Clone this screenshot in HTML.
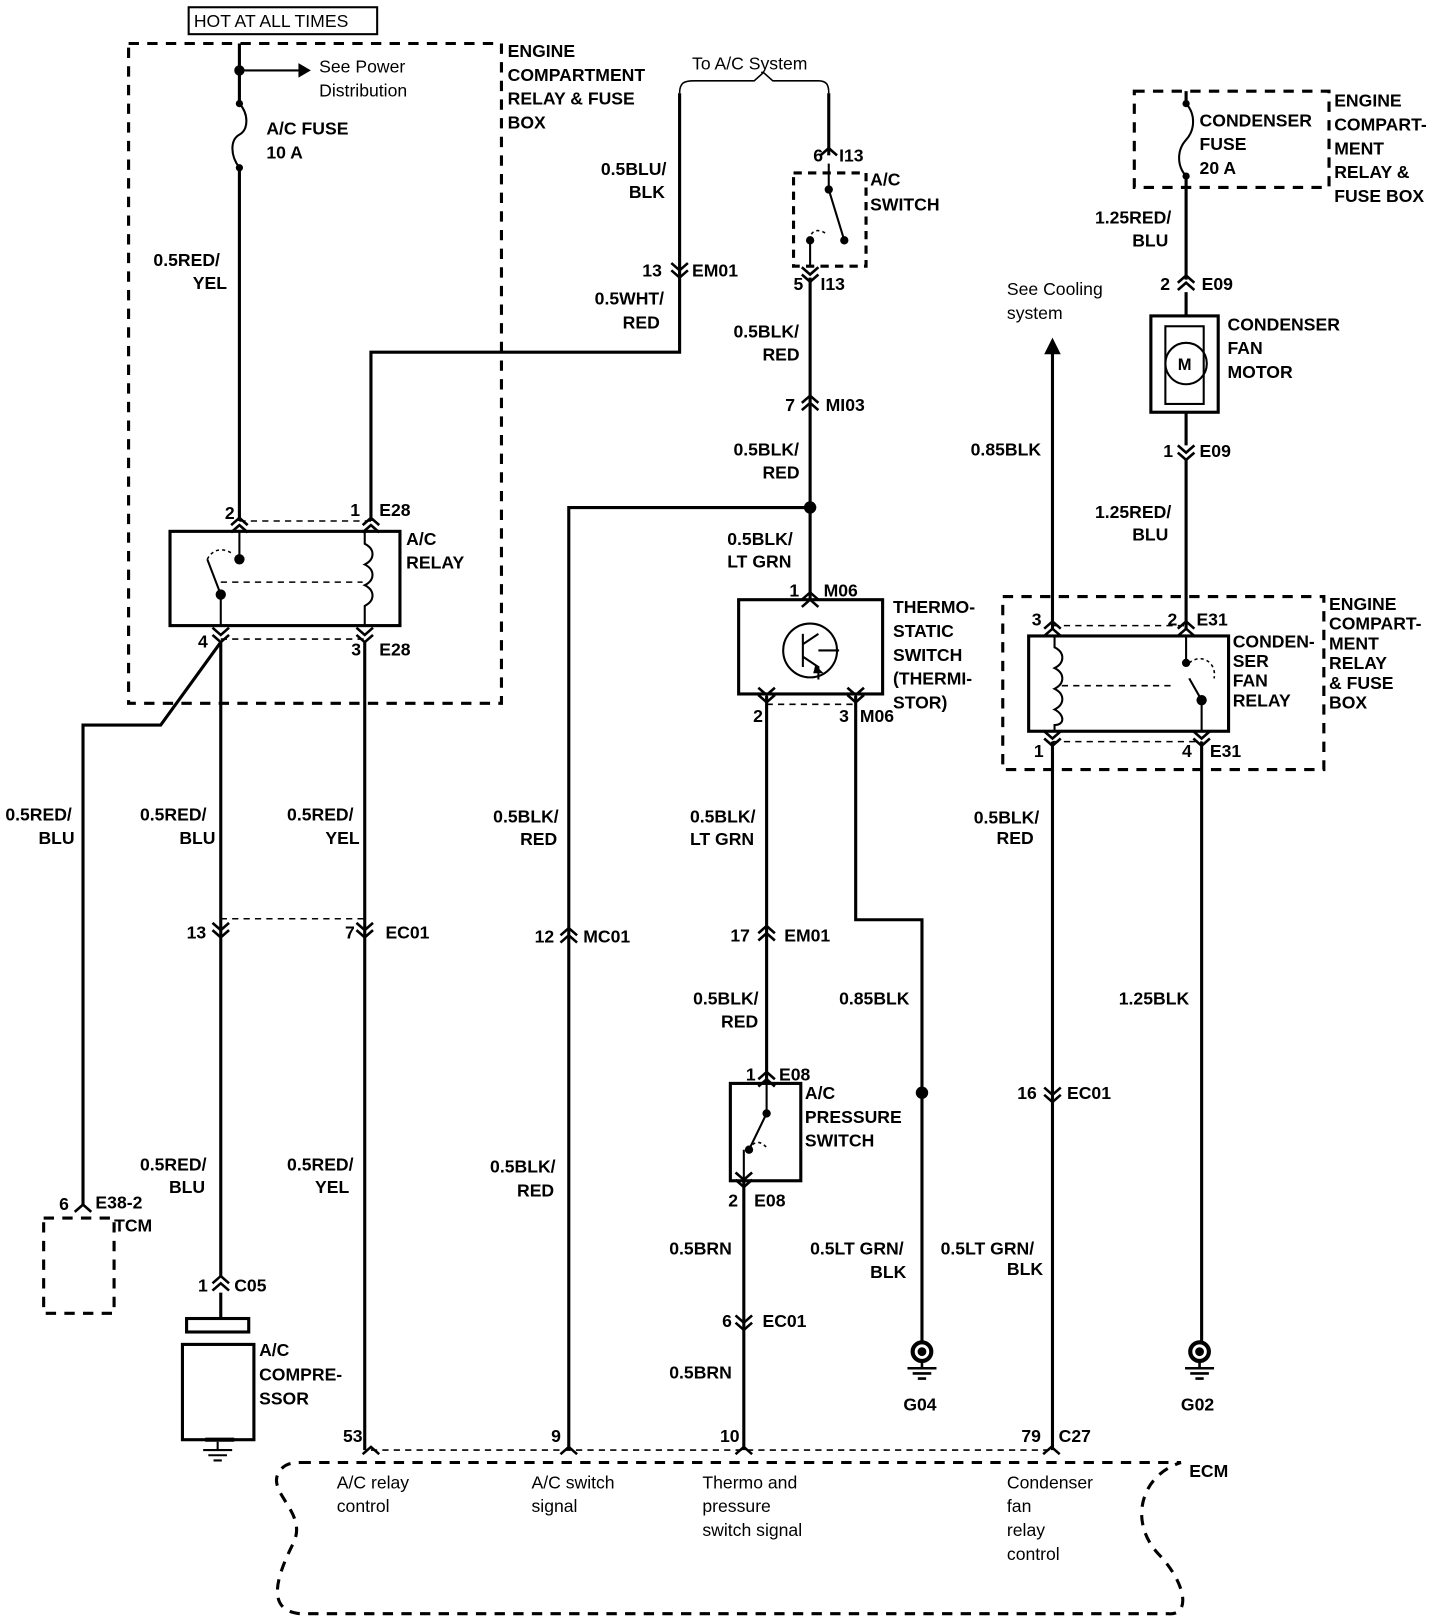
<!DOCTYPE html>
<html><head><meta charset="utf-8"><style>
html,body{margin:0;padding:0;background:#fff;}
svg{display:block}
text{font-family:"Liberation Sans",Arial,sans-serif;font-size:17px;fill:#000;font-weight:bold}
.n{font-weight:normal}
</style></head><body>
<svg width="1440" height="1622" viewBox="0 0 1390 1566" xmlns="http://www.w3.org/2000/svg">
<defs>
<g id="cu" fill="none" stroke="#000" stroke-width="2.5"><path d="M-8 7 L0 0 L8 7 M-8 14 L0 7 L8 14"/></g>
<g id="cd" fill="none" stroke="#000" stroke-width="2.5"><path d="M-8 -7 L0 0 L8 -7 M-8 -14 L0 -7 L8 -14"/></g>
<g id="su" fill="none" stroke="#000" stroke-width="2.5"><path d="M-8 7 L0 0 L8 7"/></g>
<g id="gnd" fill="none" stroke="#000" stroke-width="2.5"><circle cx="0" cy="0" r="9" stroke-width="4"/><circle cx="0" cy="0" r="3" fill="#000"/><path d="M0 9 V16 M-14 16 H14 M-9 21 H9 M-4 26 H4"/></g>
</defs>
<g fill="none" stroke="#000" stroke-width="3">
<rect x="182" y="7" width="182" height="26" stroke-width="2"/>
<rect x="124" y="42" width="360" height="637" stroke-dasharray="10 8"/>
<path d="M231 42 V100 M231 162 V503"/>
<path d="M231 68 H288" stroke-width="2"/>
<path d="M231 100 C240 110 240 125 231 130 C222 135 222 150 231 162" stroke-width="2"/>
<rect x="164" y="513" width="222" height="91"/>
<path d="M231 503 H358 M213 617 H352 M213 562 H350" stroke-width="1.5" stroke-dasharray="6 5"/>
<path d="M231 513 V540 M213 574 V604 M213 574 L200 540" stroke-width="2"/>
<path d="M200 540 C205 530 215 528 225 535" stroke-width="1.5" stroke-dasharray="3 3"/>
<path d="M352 513 V525 C362 530 362 540 352 545 C362 550 362 560 352 565 C362 570 362 580 352 585 V604" stroke-width="2"/>
<path d="M358 503 V340 H656 V90"/>
<path d="M213 620 V1232 M213 620 L155 700 H80 V1163"/>
<path d="M352 620 V1400"/>
<path d="M213 887 H352" stroke-width="1.5" stroke-dasharray="6 5"/>
<rect x="42" y="1176" width="68" height="92" stroke-dasharray="10 8"/>
<path d="M213 1248 V1273"/>
<rect x="180" y="1273" width="60" height="13"/>
<rect x="176" y="1298" width="69" height="92"/>
<path d="M198 1390 H226" stroke-width="4"/>
<path d="M210 1392 V1400 M196 1400 H224 M201 1405 H219 M206 1410 H214" stroke-width="2"/>
<path d="M656 90 C656 80 660 78 670 78 H728 L737 70 L746 78 H790 C798 78 800 82 800 90" stroke-width="1.5"/>
<path d="M800 90 V150"/>
<rect x="766" y="167" width="70" height="90" stroke-dasharray="8 6"/>
<path d="M800 158 V183 M800 183 L815 232 M782 232 V258" stroke-width="2"/>
<path d="M782 232 C782 222 790 220 798 226" stroke-width="1.5" stroke-dasharray="3 3"/>
<path d="M782 268 V579"/>
<path d="M782 490 H549 V1400"/>
<rect x="713" y="579" width="139" height="91"/>
<circle cx="782" cy="628" r="26" stroke-width="2"/>
<path d="M775 612 V644 M775 622 L790 612 M775 634 L790 644 V656 M790 628 H810" stroke-width="2"/>
<path d="M740 680 H826" stroke-width="1.5" stroke-dasharray="6 5"/>
<path d="M740 672 V1046"/>
<path d="M718 1140 V1400"/>
<path d="M826 672 V888 H890 V1295"/>
<rect x="705" y="1046" width="68" height="94"/>
<path d="M740 1046 V1075 M740 1075 L723 1110 M718 1110 V1140" stroke-width="2"/>
<path d="M723 1110 C728 1100 735 1102 740 1108" stroke-width="1.5" stroke-dasharray="3 3"/>
<path d="M358 1400 H1015" stroke-width="1.5" stroke-dasharray="6 5"/>
<path d="M290 1412 H1140 C1100 1425 1090 1470 1118 1500 C1145 1528 1150 1560 1128 1558 L290 1558 C255 1555 268 1520 283 1490 C298 1460 255 1440 270 1420 C275 1413 282 1412 290 1412 Z" stroke-dasharray="10 8"/>
<rect x="1095" y="88" width="188" height="93" stroke-dasharray="10 8"/>
<path d="M1145 88 V100 M1145 170 V270 M1145 282 V305 M1145 398 V430 M1145 444 V608"/>
<path d="M1145 100 C1154 110 1154 125 1145 135 C1136 145 1136 160 1145 170" stroke-width="2"/>
<rect x="1111" y="305" width="65" height="93"/>
<rect x="1125" y="315" width="37" height="75" stroke-width="2"/>
<circle cx="1145" cy="351" r="20" stroke-width="2"/>
<path d="M1016 340 V608"/>
<rect x="968" y="576" width="310" height="167" stroke-dasharray="10 8"/>
<rect x="993" y="614" width="193" height="92"/>
<path d="M1016 604 H1145 M1016 716 H1160 M1025 662 H1130" stroke-width="1.5" stroke-dasharray="6 5"/>
<path d="M1018 614 V625 C1028 630 1028 640 1018 645 C1028 650 1028 660 1018 665 C1028 670 1028 680 1018 685 C1028 690 1028 700 1018 700 V706" stroke-width="2"/>
<path d="M1145 614 V640 M1160 676 V706 M1160 676 L1148 655" stroke-width="2"/>
<path d="M1148 640 C1160 630 1175 640 1172 655" stroke-width="1.5" stroke-dasharray="3 3"/>
<path d="M1016 716 V1400"/>
<path d="M1160 716 V1295"/>
</g>
<g fill="#000">
<circle cx="231" cy="68" r="5"/><circle cx="231" cy="100" r="3.5"/><circle cx="231" cy="162" r="3.5"/>
<path d="M288 61 L300 68 L288 75 Z"/>
<circle cx="231" cy="540" r="5"/><circle cx="213" cy="574" r="5"/>
<circle cx="800" cy="183" r="4"/><circle cx="815" cy="232" r="4"/><circle cx="782" cy="232" r="4"/>
<circle cx="782" cy="490" r="6"/>
<path d="M787 642 L795 650 L785 650 Z"/>
<circle cx="740" cy="1075" r="4"/><circle cx="723" cy="1110" r="4"/>
<circle cx="890" cy="1055" r="6"/>
<circle cx="1145" cy="100" r="3.5"/><circle cx="1145" cy="170" r="3.5"/>
<path d="M1008 342 L1016 326 L1024 342 Z"/>
<circle cx="1145" cy="640" r="4"/><circle cx="1160" cy="676" r="5"/>
</g>
<use href="#cu" x="231" y="500"/><use href="#cu" x="358" y="500"/>
<use href="#cd" x="213" y="620"/><use href="#cd" x="352" y="620"/>
<use href="#cd" x="213" y="905"/><use href="#cd" x="352" y="905"/>
<use href="#su" x="80" y="1163"/>
<use href="#cu" x="213" y="1232"/>
<use href="#cd" x="656" y="268"/>
<use href="#su" x="800" y="143"/>
<use href="#cd" x="782" y="272"/>
<use href="#cu" x="782" y="382"/>
<use href="#cu" x="782" y="572"/>
<use href="#cd" x="740" y="678"/><use href="#cd" x="826" y="678"/>
<use href="#cu" x="740" y="894"/>
<use href="#cu" x="740" y="1035"/>
<use href="#cd" x="718" y="1146"/>
<use href="#cd" x="718" y="1284"/>
<use href="#su" x="358" y="1397"/><use href="#su" x="549" y="1397"/><use href="#su" x="718" y="1397"/><use href="#su" x="1015" y="1397"/>
<use href="#cu" x="549" y="896"/>
<use href="#cu" x="1145" y="266"/>
<use href="#cd" x="1145" y="444"/>
<use href="#cu" x="1016" y="600"/><use href="#cu" x="1145" y="600"/>
<use href="#cd" x="1016" y="720"/><use href="#cd" x="1160" y="720"/>
<use href="#cd" x="1016" y="1064"/>
<use href="#gnd" x="890" y="1305"/><use href="#gnd" x="1158" y="1305"/>
<text x="187" y="26" class="n">HOT AT ALL TIMES</text>
<text x="308" y="70" class="n">See Power</text><text x="308" y="93" class="n">Distribution</text>
<text x="257" y="130">A/C FUSE</text><text x="257" y="153">10 A</text>
<text x="148" y="257">0.5RED/</text><text x="186" y="279">YEL</text>
<text x="490" y="55">ENGINE</text><text x="490" y="78">COMPARTMENT</text><text x="490" y="101">RELAY &amp; FUSE</text><text x="490" y="124">BOX</text>
<text x="217" y="501">2</text><text x="338" y="498">1</text><text x="366" y="498">E28</text>
<text x="392" y="526">A/C</text><text x="392" y="549">RELAY</text>
<text x="191" y="625">4</text><text x="339" y="633">3</text><text x="366" y="633">E28</text>
<text x="5" y="792">0.5RED/</text><text x="37" y="815">BLU</text>
<text x="135" y="792">0.5RED/</text><text x="173" y="815">BLU</text>
<text x="277" y="792">0.5RED/</text><text x="314" y="815">YEL</text>
<text x="180" y="906">13</text><text x="333" y="906">7</text><text x="372" y="906">EC01</text>
<text x="57" y="1168">6</text><text x="92" y="1167">E38-2</text><text x="110" y="1189">TCM</text>
<text x="135" y="1130">0.5RED/</text><text x="163" y="1152">BLU</text>
<text x="277" y="1130">0.5RED/</text><text x="304" y="1152">YEL</text>
<text x="191" y="1247">1</text><text x="226" y="1247">C05</text>
<text x="250" y="1309">A/C</text><text x="250" y="1333">COMPRE-</text><text x="250" y="1356">SSOR</text>
<text x="668" y="67" class="n">To A/C System</text>
<text x="580" y="169">0.5BLU/</text><text x="607" y="191">BLK</text>
<text x="620" y="267">13</text><text x="668" y="267">EM01</text>
<text x="574" y="294">0.5WHT/</text><text x="601" y="317">RED</text>
<text x="785" y="156">6</text><text x="810" y="156">I13</text>
<text x="840" y="179">A/C</text><text x="840" y="203">SWITCH</text>
<text x="766" y="280">5</text><text x="792" y="280">I13</text>
<text x="708" y="326">0.5BLK/</text><text x="736" y="348">RED</text>
<text x="758" y="397">7</text><text x="797" y="397">MI03</text>
<text x="708" y="440">0.5BLK/</text><text x="736" y="462">RED</text>
<text x="702" y="526">0.5BLK/</text><text x="702" y="548">LT GRN</text>
<text x="762" y="576">1</text><text x="795" y="576">M06</text>
<text x="862" y="592">THERMO-</text><text x="862" y="615">STATIC</text><text x="862" y="638">SWITCH</text><text x="862" y="661">(THERMI-</text><text x="862" y="684">STOR)</text>
<text x="727" y="697">2</text><text x="810" y="697">3</text><text x="830" y="697">M06</text>
<text x="476" y="794">0.5BLK/</text><text x="502" y="816">RED</text>
<text x="516" y="910">12</text><text x="563" y="910">MC01</text>
<text x="473" y="1132">0.5BLK/</text><text x="499" y="1155">RED</text>
<text x="666" y="794">0.5BLK/</text><text x="666" y="816">LT GRN</text>
<text x="705" y="909">17</text><text x="757" y="909">EM01</text>
<text x="669" y="970">0.5BLK/</text><text x="696" y="992">RED</text>
<text x="810" y="970">0.85BLK</text>
<text x="720" y="1043">1</text><text x="752" y="1043">E08</text>
<text x="777" y="1061">A/C</text><text x="777" y="1084">PRESSURE</text><text x="777" y="1107">SWITCH</text>
<text x="703" y="1165">2</text><text x="728" y="1165">E08</text>
<text x="646" y="1211">0.5BRN</text>
<text x="782" y="1211">0.5LT GRN/</text><text x="840" y="1234">BLK</text>
<text x="697" y="1281">6</text><text x="736" y="1281">EC01</text>
<text x="646" y="1331">0.5BRN</text>
<text x="872" y="1362">G04</text>
<text x="331" y="1392">53</text><text x="532" y="1392">9</text><text x="695" y="1392">10</text><text x="986" y="1392">79</text><text x="1022" y="1392">C27</text>
<text x="325" y="1437" class="n">A/C relay</text><text x="325" y="1460" class="n">control</text>
<text x="513" y="1437" class="n">A/C switch</text><text x="513" y="1460" class="n">signal</text>
<text x="678" y="1437" class="n">Thermo and</text><text x="678" y="1460" class="n">pressure</text><text x="678" y="1483" class="n">switch signal</text>
<text x="972" y="1437" class="n">Condenser</text><text x="972" y="1460" class="n">fan</text><text x="972" y="1483" class="n">relay</text><text x="972" y="1506" class="n">control</text>
<text x="1148" y="1426">ECM</text>
<text x="1158" y="122">CONDENSER</text><text x="1158" y="145">FUSE</text><text x="1158" y="168">20 A</text>
<text x="1288" y="103">ENGINE</text><text x="1288" y="126">COMPART-</text><text x="1288" y="149">MENT</text><text x="1288" y="172">RELAY &amp;</text><text x="1288" y="195">FUSE BOX</text>
<text x="1057" y="216">1.25RED/</text><text x="1093" y="238">BLU</text>
<text x="1120" y="280">2</text><text x="1160" y="280">E09</text>
<text x="1185" y="319">CONDENSER</text><text x="1185" y="342">FAN</text><text x="1185" y="365">MOTOR</text>
<text x="1137" y="357" style="font-size:16px">M</text>
<text x="972" y="285" class="n">See Cooling</text><text x="972" y="308" class="n">system</text>
<text x="937" y="440">0.85BLK</text>
<text x="1123" y="441">1</text><text x="1158" y="441">E09</text>
<text x="1057" y="500">1.25RED/</text><text x="1093" y="522">BLU</text>
<text x="996" y="604">3</text><text x="1127" y="604">2</text><text x="1155" y="604">E31</text>
<text x="1190" y="625">CONDEN-</text><text x="1190" y="644">SER</text><text x="1190" y="663">FAN</text><text x="1190" y="682">RELAY</text>
<text x="1283" y="589">ENGINE</text><text x="1283" y="608">COMPART-</text><text x="1283" y="627">MENT</text><text x="1283" y="646">RELAY</text><text x="1283" y="665">&amp; FUSE</text><text x="1283" y="684">BOX</text>
<text x="998" y="731">1</text><text x="1141" y="731">4</text><text x="1168" y="731">E31</text>
<text x="940" y="795">0.5BLK/</text><text x="962" y="815">RED</text>
<text x="1080" y="970">1.25BLK</text>
<text x="982" y="1061">16</text><text x="1030" y="1061">EC01</text>
<text x="908" y="1211">0.5LT GRN/</text><text x="972" y="1231">BLK</text>
<text x="1140" y="1362">G02</text>
</svg>
</body></html>
